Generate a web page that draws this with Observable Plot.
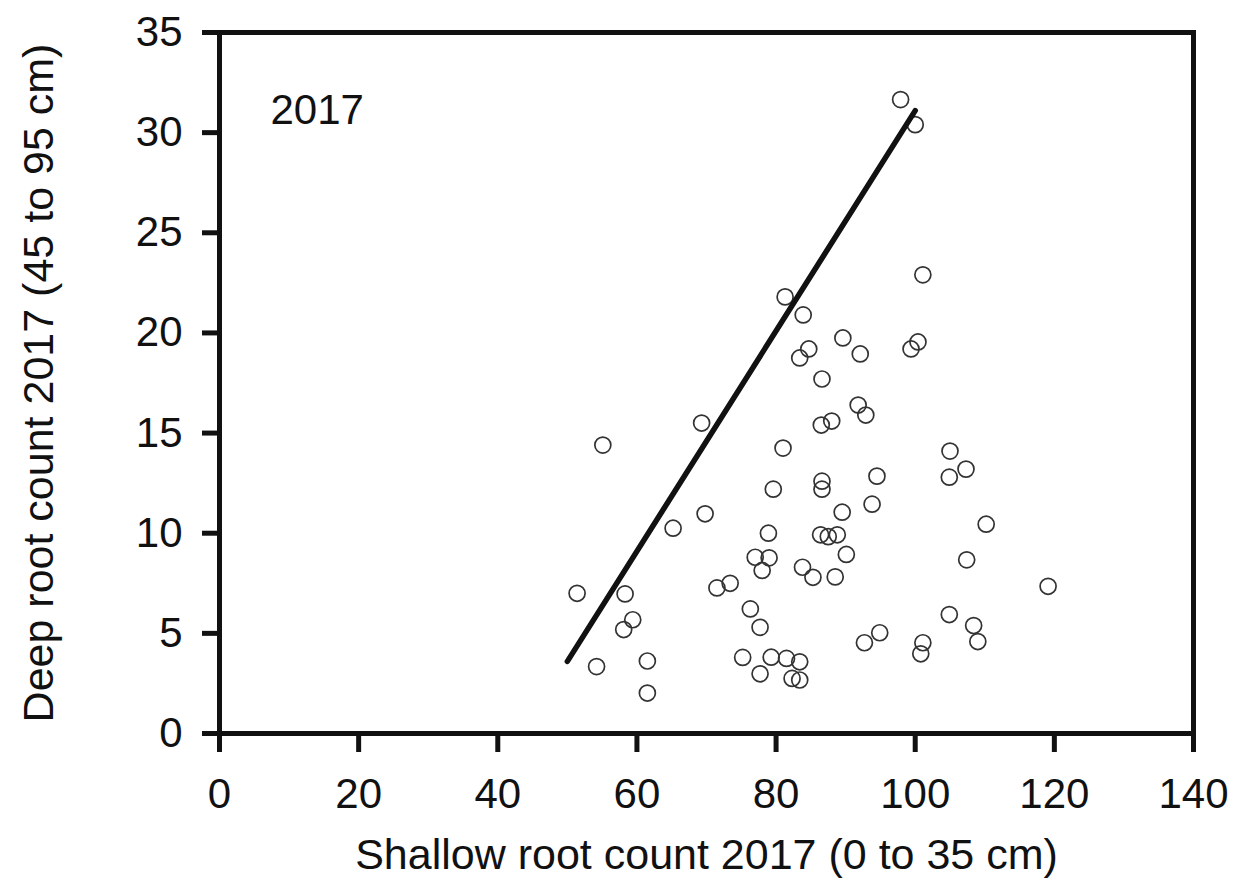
<!DOCTYPE html>
<html>
<head>
<meta charset="utf-8">
<script src="https://cdn.jsdelivr.net/npm/d3@7"></script>
<script src="https://cdn.jsdelivr.net/npm/@observablehq/plot@0.6"></script>
<style>
  html, body { margin: 0; padding: 0; background: #fff; }
  #chart { width: 1242px; height: 896px; }
</style>
</head>
<body>
<div id="chart"></div>
<script>
// Shallow root count 2017 (0 to 35 cm)
const shallow = [
  97.9, 100.0, 101.1, 81.3, 83.9, 89.6, 84.7, 83.4, 92.1, 100.4,
  99.4, 86.6, 91.8, 92.9, 88.0, 86.5, 81.0, 55.1, 69.3, 105.0,
  107.3, 104.9, 94.5, 86.6, 86.6, 79.6, 93.8, 89.5, 110.2, 69.8,
  65.2, 78.9, 86.4, 88.8, 87.5, 90.1, 77.0, 79.0, 78.0, 83.8,
  85.3, 88.5, 107.4, 119.1, 71.5, 73.4, 51.4, 58.3, 59.4, 58.1,
  76.3, 77.7, 104.9, 108.4, 109.0, 94.9, 92.7, 101.1, 100.8, 54.2,
  61.5, 61.5, 75.2, 77.7, 79.3, 81.5, 83.4, 82.3, 83.4
];
// Deep root count 2017 (45 to 95 cm)
const deep = [
  31.65, 30.4, 22.9, 21.8, 20.9, 19.75, 19.2, 18.75, 18.95, 19.55,
  19.2, 17.7, 16.4, 15.9, 15.6, 15.4, 14.25, 14.4, 15.5, 14.1,
  13.2, 12.8, 12.85, 12.6, 12.2, 12.2, 11.45, 11.05, 10.45, 10.97,
  10.25, 10.0, 9.92, 9.92, 9.83, 8.94, 8.8, 8.77, 8.14, 8.3,
  7.8, 7.82, 8.67, 7.35, 7.27, 7.5, 7.0, 6.97, 5.68, 5.19,
  6.22, 5.3, 5.94, 5.39, 4.59, 5.03, 4.53, 4.53, 3.98, 3.34,
  3.62, 2.02, 3.8, 2.98, 3.81, 3.75, 3.58, 2.75, 2.67
];
// Fitted line end points
const fitX = [50, 100];
const fitY = [3.6, 31.1];

const xTicks = [0, 20, 40, 60, 80, 100, 120, 140];
const yTicks = [0, 5, 10, 15, 20, 25, 30, 35];

const xTitle = "Shallow root count 2017 (0 to 35 cm)";
const yTitle = "Deep root count 2017 (45 to 95 cm)";
const panelLabel = "2017";

const points = shallow.map((s, i) => ({shallow: s, deep: deep[i]}));
const fit = fitX.map((x, i) => ({x, y: fitY[i]}));

const FONT = "'Liberation Sans', Arial, Helvetica, sans-serif";
const INK = "#111";

const chart = Plot.plot({
  width: 1242,
  height: 896,
  marginLeft: 219,
  marginRight: 49,
  marginTop: 32,
  marginBottom: 163,
  style: {fontFamily: FONT, fontSize: "41px", color: INK, background: "#fff"},
  x: {domain: [0, 140]},
  y: {domain: [0, 35]},
  marks: [
    Plot.axisX({ticks: xTicks, tickSize: 19, tickPadding: 26, strokeWidth: 5, fontSize: 42, label: null, stroke: INK}),
    Plot.axisY({ticks: yTicks, tickSize: 17, tickPadding: 20, strokeWidth: 5, fontSize: 42, label: null, stroke: INK}),
    Plot.frame({stroke: INK, strokeWidth: 5}),
    Plot.dot(points, {x: "shallow", y: "deep", r: 8, stroke: "#333", strokeWidth: 1.7, fill: "none"}),
    Plot.line(fit, {x: "x", y: "y", stroke: INK, strokeWidth: 5.5}),
    Plot.text([panelLabel], {text: d => d, frameAnchor: "top-left", dx: 51, dy: 62, textAnchor: "start", fontSize: 42, fill: INK}),
    Plot.text([xTitle], {text: d => d, frameAnchor: "bottom", dy: 135, textAnchor: "middle", fontSize: 43, fill: INK}),
    Plot.text([yTitle], {text: d => d, frameAnchor: "left", dx: -180, rotate: -90, textAnchor: "middle", fontSize: 43, fill: INK})
  ]
});
document.getElementById("chart").appendChild(chart);
</script>
</body>
</html>
